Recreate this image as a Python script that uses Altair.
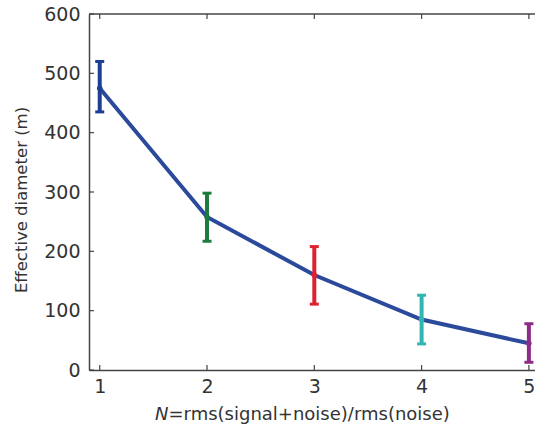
import altair as alt
import pandas as pd

# Signal-to-noise level and the measured effective diameter (m) with its spread
n_values = [1, 2, 3, 4, 5]
diameter = [475, 258, 160, 85, 45]
diameter_low = [435, 217, 111, 44, 13]
diameter_high = [520, 298, 208, 126, 78]
bar_colors = ["#1d3f94", "#1e7b3e", "#dc2430", "#2fb6b2", "#8c2c88"]
line_color = "#2b4a9b"

x_ticks = [1, 2, 3, 4, 5]
y_ticks = [0, 100, 200, 300, 400, 500, 600]
y_title = "Effective diameter (m)"
x_title_var = "N"
x_title_rest = "=rms(signal+noise)/rms(noise)"

W, H = 446, 356
FONT = "DejaVu Sans"
TEXT = "#333333"
AXIS = "#444444"

df = pd.DataFrame({
    "N": n_values,
    "d": diameter,
    "lo": diameter_low,
    "hi": diameter_high,
    "key": [str(v) for v in n_values],
})
xt = pd.DataFrame({"t": x_ticks})
yt = pd.DataFrame({"t": y_ticks})
one = pd.DataFrame({"k": [0]})

x_scale = alt.Scale(domain=[0.9, 5.057], nice=False, zero=False)
y_scale = alt.Scale(domain=[0, 600], nice=False)
x_axis = alt.Axis(values=x_ticks, ticks=False, grid=False, title=None,
                  domainColor=AXIS, domainWidth=1.5, labelFont=FONT,
                  labelFontSize=19, labelColor=TEXT, labelPadding=7)
y_axis = alt.Axis(values=y_ticks, ticks=False, grid=False, title=None,
                  domainColor=AXIS, domainWidth=1.5, labelFont=FONT,
                  labelFontSize=19, labelColor=TEXT, labelPadding=9)

color = alt.Color("key:N", scale=alt.Scale(domain=[str(v) for v in n_values],
                                           range=bar_colors), legend=None)

line = alt.Chart(df).mark_line(color=line_color, strokeWidth=4).encode(
    x=alt.X("N:Q", scale=x_scale, axis=x_axis),
    y=alt.Y("d:Q", scale=y_scale, axis=y_axis),
)

bars = alt.Chart(df).mark_rule(strokeWidth=4).encode(
    x=alt.X("N:Q", scale=x_scale, axis=x_axis),
    y=alt.Y("lo:Q", scale=y_scale, axis=y_axis),
    y2="hi:Q",
    color=color,
)
cap_lo = alt.Chart(df).mark_tick(orient="horizontal", size=9, thickness=3, opacity=1).encode(
    x=alt.X("N:Q", scale=x_scale, axis=x_axis),
    y=alt.Y("lo:Q", scale=y_scale, axis=y_axis),
    color=color,
)
cap_hi = alt.Chart(df).mark_tick(orient="horizontal", size=9, thickness=3, opacity=1).encode(
    x=alt.X("N:Q", scale=x_scale, axis=x_axis),
    y=alt.Y("hi:Q", scale=y_scale, axis=y_axis),
    color=color,
)
dots = alt.Chart(df).mark_point(filled=True, size=30, opacity=1).encode(
    x=alt.X("N:Q", scale=x_scale, axis=x_axis),
    y=alt.Y("d:Q", scale=y_scale, axis=y_axis),
    color=color,
)

# Inward-pointing ticks on left, bottom and top edges
tick_style = dict(color=AXIS, strokeWidth=1.2)
y_in = alt.Chart(yt).mark_rule(**tick_style).encode(
    y=alt.Y("t:Q", scale=y_scale, axis=y_axis),
    x=alt.value(0), x2=alt.value(5),
)
x_in_bottom = alt.Chart(xt).mark_rule(**tick_style).encode(
    x=alt.X("t:Q", scale=x_scale, axis=x_axis),
    y=alt.value(H), y2=alt.value(H - 5),
)
x_in_top = alt.Chart(xt).mark_rule(**tick_style).encode(
    x=alt.X("t:Q", scale=x_scale, axis=x_axis),
    y=alt.value(0), y2=alt.value(5),
)
top_spine = alt.Chart(one).mark_rule(color=AXIS, strokeWidth=1.5).encode(
    x=alt.value(0), x2=alt.value(W), y=alt.value(0),
)

# Axis titles
ytitle = alt.Chart(one).mark_text(font=FONT, fontSize=16.5, color=TEXT, angle=270,
                                  align="center", baseline="middle").encode(
    x=alt.value(-67), y=alt.value(186), text=alt.value(y_title),
)
xtitle_n = alt.Chart(one).mark_text(font=FONT, fontSize=18, color=TEXT, fontStyle="italic",
                                    align="left", baseline="alphabetic").encode(
    x=alt.value(66), y=alt.value(406), text=alt.value(x_title_var),
)
xtitle_rest = alt.Chart(one).mark_text(font=FONT, fontSize=18, color=TEXT,
                                       align="left", baseline="alphabetic").encode(
    x=alt.value(79.5), y=alt.value(406), text=alt.value(x_title_rest),
)

chart = alt.layer(
    line, bars, cap_lo, cap_hi, dots,
    y_in, x_in_bottom, x_in_top, top_spine,
    ytitle, xtitle_n, xtitle_rest,
).properties(
    width=W, height=H,
    padding={"left": 89, "top": 14, "right": 0, "bottom": 58},
    autosize="none",
    background="white",
).configure_view(stroke=None)

chart.save("out.html", embed_options={"renderer": "svg", "actions": False})
